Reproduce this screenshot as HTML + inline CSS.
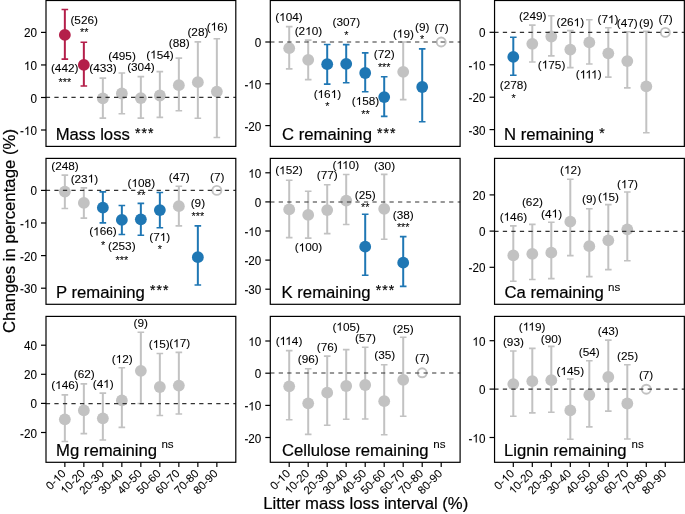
<!DOCTYPE html>
<html><head><meta charset="utf-8"><title>Changes in percentage by litter mass loss interval</title>
<style>html,body{margin:0;padding:0;background:#fff;}svg{display:block;will-change:transform;}text{font-family:"Liberation Sans",sans-serif;fill:#000;stroke:#000;stroke-width:0.08px;}text.t{stroke-width:0.2px;}</style></head><body>
<svg width="685" height="514" viewBox="0 0 685 514">
<rect x="0" y="0" width="685" height="514" fill="#fff"/>
<path d="M64.85 9.50V59.10" stroke="#b41f4a" stroke-width="2.0" fill="none"/>
<path d="M61.55 9.50H68.15M61.55 59.10H68.15" stroke="#b41f4a" stroke-width="1.6" fill="none"/>
<circle cx="64.85" cy="34.90" r="5.9" fill="#b41f4a"/>
<path d="M83.85 42.30V86.00" stroke="#b41f4a" stroke-width="2.0" fill="none"/>
<path d="M80.55 42.30H87.15M80.55 86.00H87.15" stroke="#b41f4a" stroke-width="1.6" fill="none"/>
<circle cx="83.85" cy="64.90" r="5.9" fill="#b41f4a"/>
<path d="M102.85 78.10V118.10" stroke="#c2c2c2" stroke-width="2.0" fill="none"/>
<path d="M99.55 78.10H106.15M99.55 118.10H106.15" stroke="#c2c2c2" stroke-width="1.6" fill="none"/>
<circle cx="102.85" cy="98.40" r="5.9" fill="#c2c2c2"/>
<path d="M121.85 73.00V113.70" stroke="#c2c2c2" stroke-width="2.0" fill="none"/>
<path d="M118.55 73.00H125.15M118.55 113.70H125.15" stroke="#c2c2c2" stroke-width="1.6" fill="none"/>
<circle cx="121.85" cy="93.50" r="5.9" fill="#c2c2c2"/>
<path d="M140.85 76.60V118.10" stroke="#c2c2c2" stroke-width="2.0" fill="none"/>
<path d="M137.55 76.60H144.15M137.55 118.10H144.15" stroke="#c2c2c2" stroke-width="1.6" fill="none"/>
<circle cx="140.85" cy="98.10" r="5.9" fill="#c2c2c2"/>
<path d="M159.85 71.60V117.40" stroke="#c2c2c2" stroke-width="2.0" fill="none"/>
<path d="M156.55 71.60H163.15M156.55 117.40H163.15" stroke="#c2c2c2" stroke-width="1.6" fill="none"/>
<circle cx="159.85" cy="95.50" r="5.9" fill="#c2c2c2"/>
<path d="M178.85 58.10V110.70" stroke="#c2c2c2" stroke-width="2.0" fill="none"/>
<path d="M175.55 58.10H182.15M175.55 110.70H182.15" stroke="#c2c2c2" stroke-width="1.6" fill="none"/>
<circle cx="178.85" cy="85.20" r="5.9" fill="#c2c2c2"/>
<path d="M197.85 41.90V118.20" stroke="#c2c2c2" stroke-width="2.0" fill="none"/>
<path d="M194.55 41.90H201.15M194.55 118.20H201.15" stroke="#c2c2c2" stroke-width="1.6" fill="none"/>
<circle cx="197.85" cy="82.20" r="5.9" fill="#c2c2c2"/>
<path d="M216.85 38.70V137.50" stroke="#c2c2c2" stroke-width="2.0" fill="none"/>
<path d="M213.55 38.70H220.15M213.55 137.50H220.15" stroke="#c2c2c2" stroke-width="1.6" fill="none"/>
<circle cx="216.85" cy="91.60" r="5.9" fill="#c2c2c2"/>
<line x1="45.85" y1="97.40" x2="235.85" y2="97.40" stroke="#333" stroke-width="1.2" stroke-dasharray="4.26 4.26"/>
<rect x="46.00" y="0.50" width="189.80" height="145.90" fill="none" stroke="#000" stroke-width="1.2"/>
<line x1="41.00" y1="32.40" x2="46.00" y2="32.40" stroke="#000" stroke-width="1.2"/>
<text x="0" y="0" font-size="11.7" text-anchor="end" transform="translate(36.95 37.40) scale(1 1.05)">20</text>
<line x1="41.00" y1="64.95" x2="46.00" y2="64.95" stroke="#000" stroke-width="1.2"/>
<g transform="translate(36.95 69.95) scale(1 1.05)"><text x="-6.52" y="0.00" font-size="11.7" text-anchor="start">0</text><path d="M763 0H583V1147Q518 1085 412.5 1023T223 930V1104Q374 1175 487 1276T647 1472H763Z" transform="translate(-13.01 0.00) scale(0.00571 -0.00547)" fill="#000" stroke="#000" stroke-width="14.0"/></g>
<line x1="41.00" y1="97.50" x2="46.00" y2="97.50" stroke="#000" stroke-width="1.2"/>
<text x="0" y="0" font-size="11.7" text-anchor="end" transform="translate(36.95 102.50) scale(1 1.05)">0</text>
<line x1="41.00" y1="130.00" x2="46.00" y2="130.00" stroke="#000" stroke-width="1.2"/>
<g transform="translate(36.95 135.00) scale(1 1.05)"><text x="-16.90 -6.52" y="0.00" font-size="11.7" text-anchor="start">-0</text><path d="M763 0H583V1147Q518 1085 412.5 1023T223 930V1104Q374 1175 487 1276T647 1472H763Z" transform="translate(-13.01 0.00) scale(0.00571 -0.00547)" fill="#000" stroke="#000" stroke-width="14.0"/></g>
<text x="64.70" y="71.50" font-size="11.8" text-anchor="middle">(442)</text>
<text x="84.20" y="24.10" font-size="11.8" text-anchor="middle">(526)</text>
<text x="103.00" y="72.10" font-size="11.8" text-anchor="middle">(433)</text>
<text x="122.10" y="59.50" font-size="11.8" text-anchor="middle">(495)</text>
<text x="140.90" y="70.60" font-size="11.8" text-anchor="middle">(304)</text>
<text x="146.23 156.71 163.27 169.84" y="58.50" font-size="11.8" text-anchor="start">(54)</text><path d="M763 0H583V1147Q518 1085 412.5 1023T223 930V1104Q374 1175 487 1276T647 1472H763Z" transform="translate(150.15 58.50) scale(0.00576 -0.00551)" fill="#000" stroke="#000" stroke-width="13.9"/>
<text x="179.20" y="47.00" font-size="11.8" text-anchor="middle">(88)</text>
<text x="197.90" y="36.00" font-size="11.8" text-anchor="middle">(28)</text>
<text x="206.71 217.19 223.75" y="30.60" font-size="11.8" text-anchor="start">(6)</text><path d="M763 0H583V1147Q518 1085 412.5 1023T223 930V1104Q374 1175 487 1276T647 1472H763Z" transform="translate(210.63 30.60) scale(0.00576 -0.00551)" fill="#000" stroke="#000" stroke-width="13.9"/>
<text x="64.90" y="85.50" font-size="10.8" text-anchor="middle">***</text>
<text x="84.20" y="36.00" font-size="10.8" text-anchor="middle">**</text>
<text x="55.66 69.55 78.83 87.18 95.52 100.16 103.86 113.14 121.49 129.83" y="140.10" font-size="16.7" text-anchor="start" class="t">Mass loss </text><text x="137.72" y="137.75" font-size="14" text-anchor="middle" class="t">*</text><text x="144.21" y="137.75" font-size="14" text-anchor="middle" class="t">*</text><text x="150.71" y="137.75" font-size="14" text-anchor="middle" class="t">*</text>
<path d="M289.20 26.60V68.90" stroke="#c2c2c2" stroke-width="2.0" fill="none"/>
<path d="M285.90 26.60H292.50M285.90 68.90H292.50" stroke="#c2c2c2" stroke-width="1.6" fill="none"/>
<circle cx="289.20" cy="48.20" r="5.9" fill="#c2c2c2"/>
<path d="M308.20 40.10V79.60" stroke="#c2c2c2" stroke-width="2.0" fill="none"/>
<path d="M304.90 40.10H311.50M304.90 79.60H311.50" stroke="#c2c2c2" stroke-width="1.6" fill="none"/>
<circle cx="308.20" cy="59.80" r="5.9" fill="#c2c2c2"/>
<path d="M327.20 44.50V84.10" stroke="#1f77b4" stroke-width="2.0" fill="none"/>
<path d="M323.90 44.50H330.50M323.90 84.10H330.50" stroke="#1f77b4" stroke-width="1.6" fill="none"/>
<circle cx="327.20" cy="64.20" r="5.9" fill="#1f77b4"/>
<path d="M346.20 44.60V82.80" stroke="#1f77b4" stroke-width="2.0" fill="none"/>
<path d="M342.90 44.60H349.50M342.90 82.80H349.50" stroke="#1f77b4" stroke-width="1.6" fill="none"/>
<circle cx="346.20" cy="63.80" r="5.9" fill="#1f77b4"/>
<path d="M365.20 52.90V91.80" stroke="#1f77b4" stroke-width="2.0" fill="none"/>
<path d="M361.90 52.90H368.50M361.90 91.80H368.50" stroke="#1f77b4" stroke-width="1.6" fill="none"/>
<circle cx="365.20" cy="73.00" r="5.9" fill="#1f77b4"/>
<path d="M384.20 76.70V116.40" stroke="#1f77b4" stroke-width="2.0" fill="none"/>
<path d="M380.90 76.70H387.50M380.90 116.40H387.50" stroke="#1f77b4" stroke-width="1.6" fill="none"/>
<circle cx="384.20" cy="97.10" r="5.9" fill="#1f77b4"/>
<path d="M403.20 42.00V99.60" stroke="#c2c2c2" stroke-width="2.0" fill="none"/>
<path d="M399.90 42.00H406.50M399.90 99.60H406.50" stroke="#c2c2c2" stroke-width="1.6" fill="none"/>
<circle cx="403.20" cy="71.80" r="5.9" fill="#c2c2c2"/>
<path d="M422.20 48.90V121.80" stroke="#1f77b4" stroke-width="2.0" fill="none"/>
<path d="M418.90 48.90H425.50M418.90 121.80H425.50" stroke="#1f77b4" stroke-width="1.6" fill="none"/>
<circle cx="422.20" cy="87.00" r="5.9" fill="#1f77b4"/>
<circle cx="441.20" cy="42.00" r="4.5" fill="none" stroke="#c2c2c2" stroke-width="1.9"/>
<line x1="270.20" y1="42.00" x2="460.20" y2="42.00" stroke="#333" stroke-width="1.2" stroke-dasharray="4.26 4.26"/>
<rect x="270.30" y="0.50" width="189.80" height="145.90" fill="none" stroke="#000" stroke-width="1.2"/>
<line x1="265.30" y1="42.00" x2="270.30" y2="42.00" stroke="#000" stroke-width="1.2"/>
<text x="0" y="0" font-size="11.7" text-anchor="end" transform="translate(261.30 47.00) scale(1 1.05)">0</text>
<line x1="265.30" y1="83.80" x2="270.30" y2="83.80" stroke="#000" stroke-width="1.2"/>
<g transform="translate(261.30 88.80) scale(1 1.05)"><text x="-16.90 -6.52" y="0.00" font-size="11.7" text-anchor="start">-0</text><path d="M763 0H583V1147Q518 1085 412.5 1023T223 930V1104Q374 1175 487 1276T647 1472H763Z" transform="translate(-13.01 0.00) scale(0.00571 -0.00547)" fill="#000" stroke="#000" stroke-width="14.0"/></g>
<line x1="265.30" y1="125.60" x2="270.30" y2="125.60" stroke="#000" stroke-width="1.2"/>
<text x="0" y="0" font-size="11.7" text-anchor="end" transform="translate(261.30 130.60) scale(1 1.05)">-20</text>
<text x="275.23 285.71 292.27 298.84" y="21.10" font-size="11.8" text-anchor="start">(04)</text><path d="M763 0H583V1147Q518 1085 412.5 1023T223 930V1104Q374 1175 487 1276T647 1472H763Z" transform="translate(279.15 21.10) scale(0.00576 -0.00551)" fill="#000" stroke="#000" stroke-width="13.9"/>
<text x="294.63 298.55 311.67 318.24" y="35.00" font-size="11.8" text-anchor="start">(20)</text><path d="M763 0H583V1147Q518 1085 412.5 1023T223 930V1104Q374 1175 487 1276T647 1472H763Z" transform="translate(305.11 35.00) scale(0.00576 -0.00551)" fill="#000" stroke="#000" stroke-width="13.9"/>
<text x="313.63 324.11 337.24" y="98.10" font-size="11.8" text-anchor="start">(6)</text><path d="M763 0H583V1147Q518 1085 412.5 1023T223 930V1104Q374 1175 487 1276T647 1472H763Z" transform="translate(317.55 98.10) scale(0.00576 -0.00551)" fill="#000" stroke="#000" stroke-width="13.9"/><path d="M763 0H583V1147Q518 1085 412.5 1023T223 930V1104Q374 1175 487 1276T647 1472H763Z" transform="translate(330.67 98.10) scale(0.00576 -0.00551)" fill="#000" stroke="#000" stroke-width="13.9"/>
<text x="346.30" y="26.30" font-size="11.8" text-anchor="middle">(307)</text>
<text x="351.73 362.21 368.77 375.34" y="105.00" font-size="11.8" text-anchor="start">(58)</text><path d="M763 0H583V1147Q518 1085 412.5 1023T223 930V1104Q374 1175 487 1276T647 1472H763Z" transform="translate(355.65 105.00) scale(0.00576 -0.00551)" fill="#000" stroke="#000" stroke-width="13.9"/>
<text x="384.20" y="58.40" font-size="11.8" text-anchor="middle">(72)</text>
<text x="392.91 403.39 409.95" y="37.60" font-size="11.8" text-anchor="start">(9)</text><path d="M763 0H583V1147Q518 1085 412.5 1023T223 930V1104Q374 1175 487 1276T647 1472H763Z" transform="translate(396.83 37.60) scale(0.00576 -0.00551)" fill="#000" stroke="#000" stroke-width="13.9"/>
<text x="422.20" y="31.00" font-size="11.8" text-anchor="middle">(9)</text>
<text x="441.60" y="31.80" font-size="11.8" text-anchor="middle">(7)</text>
<text x="327.40" y="109.60" font-size="10.8" text-anchor="middle">*</text>
<text x="346.30" y="38.70" font-size="10.8" text-anchor="middle">*</text>
<text x="365.50" y="117.80" font-size="10.8" text-anchor="middle">**</text>
<text x="384.20" y="70.80" font-size="10.8" text-anchor="middle">***</text>
<text x="422.20" y="42.70" font-size="10.8" text-anchor="middle">*</text>
<text x="281.98 294.03 298.67 304.21 313.50 327.40 336.68 340.39 349.67 353.37 362.65 371.93" y="140.10" font-size="16.7" text-anchor="start" class="t">C remaining </text><text x="379.83" y="137.75" font-size="14" text-anchor="middle" class="t">*</text><text x="386.32" y="137.75" font-size="14" text-anchor="middle" class="t">*</text><text x="392.82" y="137.75" font-size="14" text-anchor="middle" class="t">*</text>
<path d="M513.30 37.20V75.20" stroke="#1f77b4" stroke-width="2.0" fill="none"/>
<path d="M510.00 37.20H516.60M510.00 75.20H516.60" stroke="#1f77b4" stroke-width="1.6" fill="none"/>
<circle cx="513.30" cy="56.90" r="5.9" fill="#1f77b4"/>
<path d="M532.30 25.10V62.00" stroke="#c2c2c2" stroke-width="2.0" fill="none"/>
<path d="M529.00 25.10H535.60M529.00 62.00H535.60" stroke="#c2c2c2" stroke-width="1.6" fill="none"/>
<circle cx="532.30" cy="43.80" r="5.9" fill="#c2c2c2"/>
<path d="M551.30 15.80V55.90" stroke="#c2c2c2" stroke-width="2.0" fill="none"/>
<path d="M548.00 15.80H554.60M548.00 55.90H554.60" stroke="#c2c2c2" stroke-width="1.6" fill="none"/>
<circle cx="551.30" cy="36.50" r="5.9" fill="#c2c2c2"/>
<path d="M570.30 30.60V67.60" stroke="#c2c2c2" stroke-width="2.0" fill="none"/>
<path d="M567.00 30.60H573.60M567.00 67.60H573.60" stroke="#c2c2c2" stroke-width="1.6" fill="none"/>
<circle cx="570.30" cy="49.60" r="5.9" fill="#c2c2c2"/>
<path d="M589.30 19.70V64.00" stroke="#c2c2c2" stroke-width="2.0" fill="none"/>
<path d="M586.00 19.70H592.60M586.00 64.00H592.60" stroke="#c2c2c2" stroke-width="1.6" fill="none"/>
<circle cx="589.30" cy="42.40" r="5.9" fill="#c2c2c2"/>
<path d="M608.30 27.70V77.10" stroke="#c2c2c2" stroke-width="2.0" fill="none"/>
<path d="M605.00 27.70H611.60M605.00 77.10H611.60" stroke="#c2c2c2" stroke-width="1.6" fill="none"/>
<circle cx="608.30" cy="53.30" r="5.9" fill="#c2c2c2"/>
<path d="M627.30 31.80V87.90" stroke="#c2c2c2" stroke-width="2.0" fill="none"/>
<path d="M624.00 31.80H630.60M624.00 87.90H630.60" stroke="#c2c2c2" stroke-width="1.6" fill="none"/>
<circle cx="627.30" cy="61.10" r="5.9" fill="#c2c2c2"/>
<path d="M646.30 31.40V132.70" stroke="#c2c2c2" stroke-width="2.0" fill="none"/>
<path d="M643.00 31.40H649.60M643.00 132.70H649.60" stroke="#c2c2c2" stroke-width="1.6" fill="none"/>
<circle cx="646.30" cy="86.40" r="5.9" fill="#c2c2c2"/>
<circle cx="665.30" cy="32.40" r="4.5" fill="none" stroke="#c2c2c2" stroke-width="1.9"/>
<line x1="494.30" y1="32.40" x2="684.30" y2="32.40" stroke="#333" stroke-width="1.2" stroke-dasharray="4.26 4.26"/>
<rect x="494.55" y="0.50" width="189.80" height="145.90" fill="none" stroke="#000" stroke-width="1.2"/>
<line x1="489.55" y1="32.30" x2="494.55" y2="32.30" stroke="#000" stroke-width="1.2"/>
<text x="0" y="0" font-size="11.7" text-anchor="end" transform="translate(485.40 37.30) scale(1 1.05)">0</text>
<line x1="489.55" y1="64.75" x2="494.55" y2="64.75" stroke="#000" stroke-width="1.2"/>
<g transform="translate(485.40 69.75) scale(1 1.05)"><text x="-16.90 -6.52" y="0.00" font-size="11.7" text-anchor="start">-0</text><path d="M763 0H583V1147Q518 1085 412.5 1023T223 930V1104Q374 1175 487 1276T647 1472H763Z" transform="translate(-13.01 0.00) scale(0.00571 -0.00547)" fill="#000" stroke="#000" stroke-width="14.0"/></g>
<line x1="489.55" y1="97.20" x2="494.55" y2="97.20" stroke="#000" stroke-width="1.2"/>
<text x="0" y="0" font-size="11.7" text-anchor="end" transform="translate(485.40 102.20) scale(1 1.05)">-20</text>
<line x1="489.55" y1="129.60" x2="494.55" y2="129.60" stroke="#000" stroke-width="1.2"/>
<text x="0" y="0" font-size="11.7" text-anchor="end" transform="translate(485.40 134.60) scale(1 1.05)">-30</text>
<text x="513.50" y="88.50" font-size="11.8" text-anchor="middle">(278)</text>
<text x="532.70" y="20.00" font-size="11.8" text-anchor="middle">(249)</text>
<text x="537.83 548.31 554.87 561.44" y="68.60" font-size="11.8" text-anchor="start">(75)</text><path d="M763 0H583V1147Q518 1085 412.5 1023T223 930V1104Q374 1175 487 1276T647 1472H763Z" transform="translate(541.75 68.60) scale(0.00576 -0.00551)" fill="#000" stroke="#000" stroke-width="13.9"/>
<text x="556.53 560.45 567.01 580.14" y="26.30" font-size="11.8" text-anchor="start">(26)</text><path d="M763 0H583V1147Q518 1085 412.5 1023T223 930V1104Q374 1175 487 1276T647 1472H763Z" transform="translate(573.57 26.30) scale(0.00576 -0.00551)" fill="#000" stroke="#000" stroke-width="13.9"/>
<text x="575.80 597.66" y="78.40" font-size="11.8" text-anchor="start">()</text><path d="M763 0H583V1147Q518 1085 412.5 1023T223 930V1104Q374 1175 487 1276T647 1472H763Z" transform="translate(579.72 78.40) scale(0.00576 -0.00551)" fill="#000" stroke="#000" stroke-width="13.9"/><path d="M763 0H583V1147Q518 1085 412.5 1023T223 930V1104Q374 1175 487 1276T647 1472H763Z" transform="translate(585.41 78.40) scale(0.00576 -0.00551)" fill="#000" stroke="#000" stroke-width="13.9"/><path d="M763 0H583V1147Q518 1085 412.5 1023T223 930V1104Q374 1175 487 1276T647 1472H763Z" transform="translate(591.10 78.40) scale(0.00576 -0.00551)" fill="#000" stroke="#000" stroke-width="13.9"/>
<text x="597.51 601.43 614.55" y="23.30" font-size="11.8" text-anchor="start">(7)</text><path d="M763 0H583V1147Q518 1085 412.5 1023T223 930V1104Q374 1175 487 1276T647 1472H763Z" transform="translate(607.99 23.30) scale(0.00576 -0.00551)" fill="#000" stroke="#000" stroke-width="13.9"/>
<text x="627.20" y="27.00" font-size="11.8" text-anchor="middle">(47)</text>
<text x="646.30" y="26.70" font-size="11.8" text-anchor="middle">(9)</text>
<text x="665.60" y="22.60" font-size="11.8" text-anchor="middle">(7)</text>
<text x="513.50" y="101.80" font-size="10.8" text-anchor="middle">*</text>
<text x="504.03 516.08 520.72 526.26 535.55 549.45 558.73 562.44 571.72 575.42 584.70 593.98" y="140.10" font-size="16.7" text-anchor="start" class="t">N remaining </text><text x="601.88" y="137.75" font-size="14" text-anchor="middle" class="t">*</text>
<path d="M64.85 175.10V208.50" stroke="#c2c2c2" stroke-width="2.0" fill="none"/>
<path d="M61.55 175.10H68.15M61.55 208.50H68.15" stroke="#c2c2c2" stroke-width="1.6" fill="none"/>
<circle cx="64.85" cy="191.60" r="5.9" fill="#c2c2c2"/>
<path d="M83.85 187.90V218.10" stroke="#c2c2c2" stroke-width="2.0" fill="none"/>
<path d="M80.55 187.90H87.15M80.55 218.10H87.15" stroke="#c2c2c2" stroke-width="1.6" fill="none"/>
<circle cx="83.85" cy="202.90" r="5.9" fill="#c2c2c2"/>
<path d="M102.85 191.90V222.90" stroke="#1f77b4" stroke-width="2.0" fill="none"/>
<path d="M99.55 191.90H106.15M99.55 222.90H106.15" stroke="#1f77b4" stroke-width="1.6" fill="none"/>
<circle cx="102.85" cy="207.70" r="5.9" fill="#1f77b4"/>
<path d="M121.85 205.50V234.50" stroke="#1f77b4" stroke-width="2.0" fill="none"/>
<path d="M118.55 205.50H125.15M118.55 234.50H125.15" stroke="#1f77b4" stroke-width="1.6" fill="none"/>
<circle cx="121.85" cy="219.90" r="5.9" fill="#1f77b4"/>
<path d="M140.85 203.40V235.20" stroke="#1f77b4" stroke-width="2.0" fill="none"/>
<path d="M137.55 203.40H144.15M137.55 235.20H144.15" stroke="#1f77b4" stroke-width="1.6" fill="none"/>
<circle cx="140.85" cy="219.30" r="5.9" fill="#1f77b4"/>
<path d="M159.85 192.50V227.70" stroke="#1f77b4" stroke-width="2.0" fill="none"/>
<path d="M156.55 192.50H163.15M156.55 227.70H163.15" stroke="#1f77b4" stroke-width="1.6" fill="none"/>
<circle cx="159.85" cy="210.10" r="5.9" fill="#1f77b4"/>
<path d="M178.85 186.20V225.90" stroke="#c2c2c2" stroke-width="2.0" fill="none"/>
<path d="M175.55 186.20H182.15M175.55 225.90H182.15" stroke="#c2c2c2" stroke-width="1.6" fill="none"/>
<circle cx="178.85" cy="206.20" r="5.9" fill="#c2c2c2"/>
<path d="M197.85 225.90V285.00" stroke="#1f77b4" stroke-width="2.0" fill="none"/>
<path d="M194.55 225.90H201.15M194.55 285.00H201.15" stroke="#1f77b4" stroke-width="1.6" fill="none"/>
<circle cx="197.85" cy="257.20" r="5.9" fill="#1f77b4"/>
<circle cx="216.85" cy="190.40" r="4.5" fill="none" stroke="#c2c2c2" stroke-width="1.9"/>
<line x1="45.85" y1="190.40" x2="235.85" y2="190.40" stroke="#333" stroke-width="1.2" stroke-dasharray="4.26 4.26"/>
<rect x="46.00" y="158.40" width="189.80" height="145.90" fill="none" stroke="#000" stroke-width="1.2"/>
<line x1="41.00" y1="190.40" x2="46.00" y2="190.40" stroke="#000" stroke-width="1.2"/>
<text x="0" y="0" font-size="11.7" text-anchor="end" transform="translate(36.95 195.40) scale(1 1.05)">0</text>
<line x1="41.00" y1="223.00" x2="46.00" y2="223.00" stroke="#000" stroke-width="1.2"/>
<g transform="translate(36.95 228.00) scale(1 1.05)"><text x="-16.90 -6.52" y="0.00" font-size="11.7" text-anchor="start">-0</text><path d="M763 0H583V1147Q518 1085 412.5 1023T223 930V1104Q374 1175 487 1276T647 1472H763Z" transform="translate(-13.01 0.00) scale(0.00571 -0.00547)" fill="#000" stroke="#000" stroke-width="14.0"/></g>
<line x1="41.00" y1="255.60" x2="46.00" y2="255.60" stroke="#000" stroke-width="1.2"/>
<text x="0" y="0" font-size="11.7" text-anchor="end" transform="translate(36.95 260.60) scale(1 1.05)">-20</text>
<line x1="41.00" y1="288.20" x2="46.00" y2="288.20" stroke="#000" stroke-width="1.2"/>
<text x="0" y="0" font-size="11.7" text-anchor="end" transform="translate(36.95 293.20) scale(1 1.05)">-30</text>
<text x="65.00" y="169.70" font-size="11.8" text-anchor="middle">(248)</text>
<text x="70.63 74.55 81.11 94.24" y="182.50" font-size="11.8" text-anchor="start">(23)</text><path d="M763 0H583V1147Q518 1085 412.5 1023T223 930V1104Q374 1175 487 1276T647 1472H763Z" transform="translate(87.67 182.50) scale(0.00576 -0.00551)" fill="#000" stroke="#000" stroke-width="13.9"/>
<text x="89.23 99.71 106.27 112.84" y="235.40" font-size="11.8" text-anchor="start">(66)</text><path d="M763 0H583V1147Q518 1085 412.5 1023T223 930V1104Q374 1175 487 1276T647 1472H763Z" transform="translate(93.15 235.40) scale(0.00576 -0.00551)" fill="#000" stroke="#000" stroke-width="13.9"/>
<text x="121.80" y="249.50" font-size="11.8" text-anchor="middle">(253)</text>
<text x="127.53 138.01 144.57 151.14" y="187.00" font-size="11.8" text-anchor="start">(08)</text><path d="M763 0H583V1147Q518 1085 412.5 1023T223 930V1104Q374 1175 487 1276T647 1472H763Z" transform="translate(131.45 187.00) scale(0.00576 -0.00551)" fill="#000" stroke="#000" stroke-width="13.9"/>
<text x="149.31 153.23 166.35" y="241.00" font-size="11.8" text-anchor="start">(7)</text><path d="M763 0H583V1147Q518 1085 412.5 1023T223 930V1104Q374 1175 487 1276T647 1472H763Z" transform="translate(159.79 241.00) scale(0.00576 -0.00551)" fill="#000" stroke="#000" stroke-width="13.9"/>
<text x="179.20" y="181.30" font-size="11.8" text-anchor="middle">(47)</text>
<text x="197.90" y="206.90" font-size="11.8" text-anchor="middle">(9)</text>
<text x="217.20" y="181.10" font-size="11.8" text-anchor="middle">(7)</text>
<text x="103.00" y="248.70" font-size="10.8" text-anchor="middle">*</text>
<text x="121.80" y="263.50" font-size="10.8" text-anchor="middle">***</text>
<text x="141.30" y="199.30" font-size="10.8" text-anchor="middle">**</text>
<text x="159.80" y="253.40" font-size="10.8" text-anchor="middle">*</text>
<text x="197.90" y="220.10" font-size="10.8" text-anchor="middle">***</text>
<text x="56.01 66.84 71.46 77.03 86.31 100.21 109.49 113.20 122.48 126.18 135.46 144.74" y="297.70" font-size="16.7" text-anchor="start" class="t">P remaining </text><text x="152.63" y="295.35" font-size="14" text-anchor="middle" class="t">*</text><text x="159.13" y="295.35" font-size="14" text-anchor="middle" class="t">*</text><text x="165.63" y="295.35" font-size="14" text-anchor="middle" class="t">*</text>
<path d="M289.20 180.20V237.60" stroke="#c2c2c2" stroke-width="2.0" fill="none"/>
<path d="M285.90 180.20H292.50M285.90 237.60H292.50" stroke="#c2c2c2" stroke-width="1.6" fill="none"/>
<circle cx="289.20" cy="209.40" r="5.9" fill="#c2c2c2"/>
<path d="M308.20 191.30V238.10" stroke="#c2c2c2" stroke-width="2.0" fill="none"/>
<path d="M304.90 191.30H311.50M304.90 238.10H311.50" stroke="#c2c2c2" stroke-width="1.6" fill="none"/>
<circle cx="308.20" cy="214.90" r="5.9" fill="#c2c2c2"/>
<path d="M327.20 184.70V233.60" stroke="#c2c2c2" stroke-width="2.0" fill="none"/>
<path d="M323.90 184.70H330.50M323.90 233.60H330.50" stroke="#c2c2c2" stroke-width="1.6" fill="none"/>
<circle cx="327.20" cy="210.10" r="5.9" fill="#c2c2c2"/>
<path d="M346.20 174.50V224.50" stroke="#c2c2c2" stroke-width="2.0" fill="none"/>
<path d="M342.90 174.50H349.50M342.90 224.50H349.50" stroke="#c2c2c2" stroke-width="1.6" fill="none"/>
<circle cx="346.20" cy="200.60" r="5.9" fill="#c2c2c2"/>
<path d="M365.20 214.30V275.30" stroke="#1f77b4" stroke-width="2.0" fill="none"/>
<path d="M361.90 214.30H368.50M361.90 275.30H368.50" stroke="#1f77b4" stroke-width="1.6" fill="none"/>
<circle cx="365.20" cy="246.70" r="5.9" fill="#1f77b4"/>
<path d="M384.20 174.40V239.30" stroke="#c2c2c2" stroke-width="2.0" fill="none"/>
<path d="M380.90 174.40H387.50M380.90 239.30H387.50" stroke="#c2c2c2" stroke-width="1.6" fill="none"/>
<circle cx="384.20" cy="208.80" r="5.9" fill="#c2c2c2"/>
<path d="M403.20 236.60V286.40" stroke="#1f77b4" stroke-width="2.0" fill="none"/>
<path d="M399.90 236.60H406.50M399.90 286.40H406.50" stroke="#1f77b4" stroke-width="1.6" fill="none"/>
<circle cx="403.20" cy="262.70" r="5.9" fill="#1f77b4"/>
<line x1="270.20" y1="202.00" x2="460.20" y2="202.00" stroke="#333" stroke-width="1.2" stroke-dasharray="4.26 4.26"/>
<rect x="270.30" y="158.40" width="189.80" height="145.90" fill="none" stroke="#000" stroke-width="1.2"/>
<line x1="265.30" y1="172.80" x2="270.30" y2="172.80" stroke="#000" stroke-width="1.2"/>
<g transform="translate(261.30 177.80) scale(1 1.05)"><text x="-6.52" y="0.00" font-size="11.7" text-anchor="start">0</text><path d="M763 0H583V1147Q518 1085 412.5 1023T223 930V1104Q374 1175 487 1276T647 1472H763Z" transform="translate(-13.01 0.00) scale(0.00571 -0.00547)" fill="#000" stroke="#000" stroke-width="14.0"/></g>
<line x1="265.30" y1="201.90" x2="270.30" y2="201.90" stroke="#000" stroke-width="1.2"/>
<text x="0" y="0" font-size="11.7" text-anchor="end" transform="translate(261.30 206.90) scale(1 1.05)">0</text>
<line x1="265.30" y1="231.00" x2="270.30" y2="231.00" stroke="#000" stroke-width="1.2"/>
<g transform="translate(261.30 236.00) scale(1 1.05)"><text x="-16.90 -6.52" y="0.00" font-size="11.7" text-anchor="start">-0</text><path d="M763 0H583V1147Q518 1085 412.5 1023T223 930V1104Q374 1175 487 1276T647 1472H763Z" transform="translate(-13.01 0.00) scale(0.00571 -0.00547)" fill="#000" stroke="#000" stroke-width="14.0"/></g>
<line x1="265.30" y1="260.10" x2="270.30" y2="260.10" stroke="#000" stroke-width="1.2"/>
<text x="0" y="0" font-size="11.7" text-anchor="end" transform="translate(261.30 265.10) scale(1 1.05)">-20</text>
<line x1="265.30" y1="289.20" x2="270.30" y2="289.20" stroke="#000" stroke-width="1.2"/>
<text x="0" y="0" font-size="11.7" text-anchor="end" transform="translate(261.30 294.20) scale(1 1.05)">-30</text>
<text x="275.23 285.71 292.27 298.84" y="174.30" font-size="11.8" text-anchor="start">(52)</text><path d="M763 0H583V1147Q518 1085 412.5 1023T223 930V1104Q374 1175 487 1276T647 1472H763Z" transform="translate(279.15 174.30) scale(0.00576 -0.00551)" fill="#000" stroke="#000" stroke-width="13.9"/>
<text x="294.73 305.21 311.77 318.34" y="251.40" font-size="11.8" text-anchor="start">(00)</text><path d="M763 0H583V1147Q518 1085 412.5 1023T223 930V1104Q374 1175 487 1276T647 1472H763Z" transform="translate(298.65 251.40) scale(0.00576 -0.00551)" fill="#000" stroke="#000" stroke-width="13.9"/>
<text x="327.30" y="179.20" font-size="11.8" text-anchor="middle">(77)</text>
<text x="332.56 348.74 355.30" y="169.00" font-size="11.8" text-anchor="start">(0)</text><path d="M763 0H583V1147Q518 1085 412.5 1023T223 930V1104Q374 1175 487 1276T647 1472H763Z" transform="translate(336.49 169.00) scale(0.00576 -0.00551)" fill="#000" stroke="#000" stroke-width="13.9"/><path d="M763 0H583V1147Q518 1085 412.5 1023T223 930V1104Q374 1175 487 1276T647 1472H763Z" transform="translate(342.17 169.00) scale(0.00576 -0.00551)" fill="#000" stroke="#000" stroke-width="13.9"/>
<text x="365.20" y="198.50" font-size="11.8" text-anchor="middle">(25)</text>
<text x="384.60" y="169.60" font-size="11.8" text-anchor="middle">(30)</text>
<text x="403.20" y="218.70" font-size="11.8" text-anchor="middle">(38)</text>
<text x="365.20" y="210.90" font-size="10.8" text-anchor="middle">**</text>
<text x="403.20" y="230.70" font-size="10.8" text-anchor="middle">***</text>
<text x="281.55 292.67 297.32 302.86 312.14 326.05 335.33 339.03 348.32 352.02 361.30 370.58" y="297.70" font-size="16.7" text-anchor="start" class="t">K remaining </text><text x="378.48" y="295.35" font-size="14" text-anchor="middle" class="t">*</text><text x="384.97" y="295.35" font-size="14" text-anchor="middle" class="t">*</text><text x="391.46" y="295.35" font-size="14" text-anchor="middle" class="t">*</text>
<path d="M513.30 225.90V281.30" stroke="#c2c2c2" stroke-width="2.0" fill="none"/>
<path d="M510.00 225.90H516.60M510.00 281.30H516.60" stroke="#c2c2c2" stroke-width="1.6" fill="none"/>
<circle cx="513.30" cy="255.40" r="5.9" fill="#c2c2c2"/>
<path d="M532.30 224.40V279.50" stroke="#c2c2c2" stroke-width="2.0" fill="none"/>
<path d="M529.00 224.40H535.60M529.00 279.50H535.60" stroke="#c2c2c2" stroke-width="1.6" fill="none"/>
<circle cx="532.30" cy="253.90" r="5.9" fill="#c2c2c2"/>
<path d="M551.30 222.20V278.60" stroke="#c2c2c2" stroke-width="2.0" fill="none"/>
<path d="M548.00 222.20H554.60M548.00 278.60H554.60" stroke="#c2c2c2" stroke-width="1.6" fill="none"/>
<circle cx="551.30" cy="252.70" r="5.9" fill="#c2c2c2"/>
<path d="M570.30 179.20V255.60" stroke="#c2c2c2" stroke-width="2.0" fill="none"/>
<path d="M567.00 179.20H573.60M567.00 255.60H573.60" stroke="#c2c2c2" stroke-width="1.6" fill="none"/>
<circle cx="570.30" cy="221.70" r="5.9" fill="#c2c2c2"/>
<path d="M589.30 208.70V276.60" stroke="#c2c2c2" stroke-width="2.0" fill="none"/>
<path d="M586.00 208.70H592.60M586.00 276.60H592.60" stroke="#c2c2c2" stroke-width="1.6" fill="none"/>
<circle cx="589.30" cy="246.20" r="5.9" fill="#c2c2c2"/>
<path d="M608.30 204.60V269.60" stroke="#c2c2c2" stroke-width="2.0" fill="none"/>
<path d="M605.00 204.60H611.60M605.00 269.60H611.60" stroke="#c2c2c2" stroke-width="1.6" fill="none"/>
<circle cx="608.30" cy="240.30" r="5.9" fill="#c2c2c2"/>
<path d="M627.30 192.00V260.80" stroke="#c2c2c2" stroke-width="2.0" fill="none"/>
<path d="M624.00 192.00H630.60M624.00 260.80H630.60" stroke="#c2c2c2" stroke-width="1.6" fill="none"/>
<circle cx="627.30" cy="229.30" r="5.9" fill="#c2c2c2"/>
<line x1="494.30" y1="231.30" x2="684.30" y2="231.30" stroke="#333" stroke-width="1.2" stroke-dasharray="4.26 4.26"/>
<rect x="494.55" y="158.40" width="189.80" height="145.90" fill="none" stroke="#000" stroke-width="1.2"/>
<line x1="489.55" y1="194.90" x2="494.55" y2="194.90" stroke="#000" stroke-width="1.2"/>
<text x="0" y="0" font-size="11.7" text-anchor="end" transform="translate(485.40 199.90) scale(1 1.05)">20</text>
<line x1="489.55" y1="231.10" x2="494.55" y2="231.10" stroke="#000" stroke-width="1.2"/>
<text x="0" y="0" font-size="11.7" text-anchor="end" transform="translate(485.40 236.10) scale(1 1.05)">0</text>
<line x1="489.55" y1="267.30" x2="494.55" y2="267.30" stroke="#000" stroke-width="1.2"/>
<text x="0" y="0" font-size="11.7" text-anchor="end" transform="translate(485.40 272.30) scale(1 1.05)">-20</text>
<text x="499.63 510.11 516.67 523.24" y="220.70" font-size="11.8" text-anchor="start">(46)</text><path d="M763 0H583V1147Q518 1085 412.5 1023T223 930V1104Q374 1175 487 1276T647 1472H763Z" transform="translate(503.55 220.70) scale(0.00576 -0.00551)" fill="#000" stroke="#000" stroke-width="13.9"/>
<text x="532.40" y="205.70" font-size="11.8" text-anchor="middle">(62)</text>
<text x="541.11 545.03 558.15" y="217.50" font-size="11.8" text-anchor="start">(4)</text><path d="M763 0H583V1147Q518 1085 412.5 1023T223 930V1104Q374 1175 487 1276T647 1472H763Z" transform="translate(551.59 217.50) scale(0.00576 -0.00551)" fill="#000" stroke="#000" stroke-width="13.9"/>
<text x="560.11 570.59 577.15" y="173.80" font-size="11.8" text-anchor="start">(2)</text><path d="M763 0H583V1147Q518 1085 412.5 1023T223 930V1104Q374 1175 487 1276T647 1472H763Z" transform="translate(564.03 173.80) scale(0.00576 -0.00551)" fill="#000" stroke="#000" stroke-width="13.9"/>
<text x="589.30" y="202.60" font-size="11.8" text-anchor="middle">(9)</text>
<text x="598.01 608.49 615.05" y="200.50" font-size="11.8" text-anchor="start">(5)</text><path d="M763 0H583V1147Q518 1085 412.5 1023T223 930V1104Q374 1175 487 1276T647 1472H763Z" transform="translate(601.93 200.50) scale(0.00576 -0.00551)" fill="#000" stroke="#000" stroke-width="13.9"/>
<text x="617.01 627.49 634.05" y="188.20" font-size="11.8" text-anchor="start">(7)</text><path d="M763 0H583V1147Q518 1085 412.5 1023T223 930V1104Q374 1175 487 1276T647 1472H763Z" transform="translate(620.93 188.20) scale(0.00576 -0.00551)" fill="#000" stroke="#000" stroke-width="13.9"/>
<text x="504.48" y="297.70" font-size="16.7" text-anchor="start" class="t">Ca remaining</text>
<text x="608.10" y="290.80" font-size="11.6" text-anchor="start">ns</text>
<path d="M64.85 394.90V441.50" stroke="#c2c2c2" stroke-width="2.0" fill="none"/>
<path d="M61.55 394.90H68.15M61.55 441.50H68.15" stroke="#c2c2c2" stroke-width="1.6" fill="none"/>
<circle cx="64.85" cy="419.30" r="5.9" fill="#c2c2c2"/>
<path d="M83.85 383.90V433.60" stroke="#c2c2c2" stroke-width="2.0" fill="none"/>
<path d="M80.55 383.90H87.15M80.55 433.60H87.15" stroke="#c2c2c2" stroke-width="1.6" fill="none"/>
<circle cx="83.85" cy="410.40" r="5.9" fill="#c2c2c2"/>
<path d="M102.85 393.10V440.00" stroke="#c2c2c2" stroke-width="2.0" fill="none"/>
<path d="M99.55 393.10H106.15M99.55 440.00H106.15" stroke="#c2c2c2" stroke-width="1.6" fill="none"/>
<circle cx="102.85" cy="418.30" r="5.9" fill="#c2c2c2"/>
<path d="M121.85 367.80V427.40" stroke="#c2c2c2" stroke-width="2.0" fill="none"/>
<path d="M118.55 367.80H125.15M118.55 427.40H125.15" stroke="#c2c2c2" stroke-width="1.6" fill="none"/>
<circle cx="121.85" cy="400.40" r="5.9" fill="#c2c2c2"/>
<path d="M140.85 332.20V403.50" stroke="#c2c2c2" stroke-width="2.0" fill="none"/>
<path d="M137.55 332.20H144.15M137.55 403.50H144.15" stroke="#c2c2c2" stroke-width="1.6" fill="none"/>
<circle cx="140.85" cy="370.80" r="5.9" fill="#c2c2c2"/>
<path d="M159.85 353.50V415.50" stroke="#c2c2c2" stroke-width="2.0" fill="none"/>
<path d="M156.55 353.50H163.15M156.55 415.50H163.15" stroke="#c2c2c2" stroke-width="1.6" fill="none"/>
<circle cx="159.85" cy="387.00" r="5.9" fill="#c2c2c2"/>
<path d="M178.85 352.40V414.00" stroke="#c2c2c2" stroke-width="2.0" fill="none"/>
<path d="M175.55 352.40H182.15M175.55 414.00H182.15" stroke="#c2c2c2" stroke-width="1.6" fill="none"/>
<circle cx="178.85" cy="385.60" r="5.9" fill="#c2c2c2"/>
<line x1="45.85" y1="403.60" x2="235.85" y2="403.60" stroke="#333" stroke-width="1.2" stroke-dasharray="4.26 4.26"/>
<rect x="46.00" y="316.40" width="189.80" height="145.90" fill="none" stroke="#000" stroke-width="1.2"/>
<line x1="41.00" y1="345.20" x2="46.00" y2="345.20" stroke="#000" stroke-width="1.2"/>
<text x="0" y="0" font-size="11.7" text-anchor="end" transform="translate(36.95 350.20) scale(1 1.05)">40</text>
<line x1="41.00" y1="374.30" x2="46.00" y2="374.30" stroke="#000" stroke-width="1.2"/>
<text x="0" y="0" font-size="11.7" text-anchor="end" transform="translate(36.95 379.30) scale(1 1.05)">20</text>
<line x1="41.00" y1="403.40" x2="46.00" y2="403.40" stroke="#000" stroke-width="1.2"/>
<text x="0" y="0" font-size="11.7" text-anchor="end" transform="translate(36.95 408.40) scale(1 1.05)">0</text>
<line x1="41.00" y1="432.50" x2="46.00" y2="432.50" stroke="#000" stroke-width="1.2"/>
<text x="0" y="0" font-size="11.7" text-anchor="end" transform="translate(36.95 437.50) scale(1 1.05)">-20</text>
<text x="51.23 61.71 68.27 74.84" y="389.00" font-size="11.8" text-anchor="start">(46)</text><path d="M763 0H583V1147Q518 1085 412.5 1023T223 930V1104Q374 1175 487 1276T647 1472H763Z" transform="translate(55.15 389.00) scale(0.00576 -0.00551)" fill="#000" stroke="#000" stroke-width="13.9"/>
<text x="84.20" y="378.00" font-size="11.8" text-anchor="middle">(62)</text>
<text x="92.71 96.63 109.75" y="387.80" font-size="11.8" text-anchor="start">(4)</text><path d="M763 0H583V1147Q518 1085 412.5 1023T223 930V1104Q374 1175 487 1276T647 1472H763Z" transform="translate(103.19 387.80) scale(0.00576 -0.00551)" fill="#000" stroke="#000" stroke-width="13.9"/>
<text x="111.71 122.19 128.75" y="363.00" font-size="11.8" text-anchor="start">(2)</text><path d="M763 0H583V1147Q518 1085 412.5 1023T223 930V1104Q374 1175 487 1276T647 1472H763Z" transform="translate(115.63 363.00) scale(0.00576 -0.00551)" fill="#000" stroke="#000" stroke-width="13.9"/>
<text x="140.80" y="326.80" font-size="11.8" text-anchor="middle">(9)</text>
<text x="148.81 159.29 165.85" y="348.10" font-size="11.8" text-anchor="start">(5)</text><path d="M763 0H583V1147Q518 1085 412.5 1023T223 930V1104Q374 1175 487 1276T647 1472H763Z" transform="translate(152.73 348.10) scale(0.00576 -0.00551)" fill="#000" stroke="#000" stroke-width="13.9"/>
<text x="169.21 179.69 186.25" y="347.30" font-size="11.8" text-anchor="start">(7)</text><path d="M763 0H583V1147Q518 1085 412.5 1023T223 930V1104Q374 1175 487 1276T647 1472H763Z" transform="translate(173.13 347.30) scale(0.00576 -0.00551)" fill="#000" stroke="#000" stroke-width="13.9"/>
<text x="56.06" y="455.60" font-size="16.7" text-anchor="start" class="t">Mg remaining</text>
<text x="161.40" y="448.00" font-size="11.6" text-anchor="start">ns</text>
<line x1="64.85" y1="462.30" x2="64.85" y2="467.10" stroke="#000" stroke-width="1.2"/>
<g transform="rotate(-45 66.55 474.30)"><text x="43.74 50.07 60.19" y="474.30" font-size="11.4" text-anchor="start">0-0</text><path d="M763 0H583V1147Q518 1085 412.5 1023T223 930V1104Q374 1175 487 1276T647 1472H763Z" transform="translate(53.86 474.30) scale(0.00557 -0.00533)" fill="#000" stroke="#000" stroke-width="14.4"/></g>
<line x1="83.85" y1="462.30" x2="83.85" y2="467.10" stroke="#000" stroke-width="1.2"/>
<g transform="rotate(-45 85.55 474.30)"><text x="62.74 69.07 72.86 79.21" y="474.30" font-size="11.4" text-anchor="start">0-20</text><path d="M763 0H583V1147Q518 1085 412.5 1023T223 930V1104Q374 1175 487 1276T647 1472H763Z" transform="translate(56.41 474.30) scale(0.00557 -0.00533)" fill="#000" stroke="#000" stroke-width="14.4"/></g>
<line x1="102.85" y1="462.30" x2="102.85" y2="467.10" stroke="#000" stroke-width="1.2"/>
<text x="104.55" y="474.30" font-size="11.4" text-anchor="end" transform="rotate(-45 104.55 474.30)">20-30</text>
<line x1="121.85" y1="462.30" x2="121.85" y2="467.10" stroke="#000" stroke-width="1.2"/>
<text x="123.55" y="474.30" font-size="11.4" text-anchor="end" transform="rotate(-45 123.55 474.30)">30-40</text>
<line x1="140.85" y1="462.30" x2="140.85" y2="467.10" stroke="#000" stroke-width="1.2"/>
<text x="142.55" y="474.30" font-size="11.4" text-anchor="end" transform="rotate(-45 142.55 474.30)">40-50</text>
<line x1="159.85" y1="462.30" x2="159.85" y2="467.10" stroke="#000" stroke-width="1.2"/>
<text x="161.55" y="474.30" font-size="11.4" text-anchor="end" transform="rotate(-45 161.55 474.30)">50-60</text>
<line x1="178.85" y1="462.30" x2="178.85" y2="467.10" stroke="#000" stroke-width="1.2"/>
<text x="180.55" y="474.30" font-size="11.4" text-anchor="end" transform="rotate(-45 180.55 474.30)">60-70</text>
<line x1="197.85" y1="462.30" x2="197.85" y2="467.10" stroke="#000" stroke-width="1.2"/>
<text x="199.55" y="474.30" font-size="11.4" text-anchor="end" transform="rotate(-45 199.55 474.30)">70-80</text>
<line x1="216.85" y1="462.30" x2="216.85" y2="467.10" stroke="#000" stroke-width="1.2"/>
<text x="218.55" y="474.30" font-size="11.4" text-anchor="end" transform="rotate(-45 218.55 474.30)">80-90</text>
<path d="M289.20 350.60V419.70" stroke="#c2c2c2" stroke-width="2.0" fill="none"/>
<path d="M285.90 350.60H292.50M285.90 419.70H292.50" stroke="#c2c2c2" stroke-width="1.6" fill="none"/>
<circle cx="289.20" cy="386.30" r="5.9" fill="#c2c2c2"/>
<path d="M308.20 368.80V434.40" stroke="#c2c2c2" stroke-width="2.0" fill="none"/>
<path d="M304.90 368.80H311.50M304.90 434.40H311.50" stroke="#c2c2c2" stroke-width="1.6" fill="none"/>
<circle cx="308.20" cy="403.30" r="5.9" fill="#c2c2c2"/>
<path d="M327.20 356.10V425.20" stroke="#c2c2c2" stroke-width="2.0" fill="none"/>
<path d="M323.90 356.10H330.50M323.90 425.20H330.50" stroke="#c2c2c2" stroke-width="1.6" fill="none"/>
<circle cx="327.20" cy="392.70" r="5.9" fill="#c2c2c2"/>
<path d="M346.20 349.60V419.30" stroke="#c2c2c2" stroke-width="2.0" fill="none"/>
<path d="M342.90 349.60H349.50M342.90 419.30H349.50" stroke="#c2c2c2" stroke-width="1.6" fill="none"/>
<circle cx="346.20" cy="386.00" r="5.9" fill="#c2c2c2"/>
<path d="M365.20 347.30V419.00" stroke="#c2c2c2" stroke-width="2.0" fill="none"/>
<path d="M361.90 347.30H368.50M361.90 419.00H368.50" stroke="#c2c2c2" stroke-width="1.6" fill="none"/>
<circle cx="365.20" cy="385.00" r="5.9" fill="#c2c2c2"/>
<path d="M384.20 364.80V434.70" stroke="#c2c2c2" stroke-width="2.0" fill="none"/>
<path d="M380.90 364.80H387.50M380.90 434.70H387.50" stroke="#c2c2c2" stroke-width="1.6" fill="none"/>
<circle cx="384.20" cy="401.20" r="5.9" fill="#c2c2c2"/>
<path d="M403.20 337.30V416.20" stroke="#c2c2c2" stroke-width="2.0" fill="none"/>
<path d="M399.90 337.30H406.50M399.90 416.20H406.50" stroke="#c2c2c2" stroke-width="1.6" fill="none"/>
<circle cx="403.20" cy="379.90" r="5.9" fill="#c2c2c2"/>
<circle cx="422.20" cy="372.80" r="4.5" fill="none" stroke="#c2c2c2" stroke-width="1.9"/>
<line x1="270.20" y1="373.00" x2="460.20" y2="373.00" stroke="#333" stroke-width="1.2" stroke-dasharray="4.26 4.26"/>
<rect x="270.30" y="316.40" width="189.80" height="145.90" fill="none" stroke="#000" stroke-width="1.2"/>
<line x1="265.30" y1="341.00" x2="270.30" y2="341.00" stroke="#000" stroke-width="1.2"/>
<g transform="translate(261.30 346.00) scale(1 1.05)"><text x="-6.52" y="0.00" font-size="11.7" text-anchor="start">0</text><path d="M763 0H583V1147Q518 1085 412.5 1023T223 930V1104Q374 1175 487 1276T647 1472H763Z" transform="translate(-13.01 0.00) scale(0.00571 -0.00547)" fill="#000" stroke="#000" stroke-width="14.0"/></g>
<line x1="265.30" y1="373.20" x2="270.30" y2="373.20" stroke="#000" stroke-width="1.2"/>
<text x="0" y="0" font-size="11.7" text-anchor="end" transform="translate(261.30 378.20) scale(1 1.05)">0</text>
<line x1="265.30" y1="405.40" x2="270.30" y2="405.40" stroke="#000" stroke-width="1.2"/>
<g transform="translate(261.30 410.40) scale(1 1.05)"><text x="-16.90 -6.52" y="0.00" font-size="11.7" text-anchor="start">-0</text><path d="M763 0H583V1147Q518 1085 412.5 1023T223 930V1104Q374 1175 487 1276T647 1472H763Z" transform="translate(-13.01 0.00) scale(0.00571 -0.00547)" fill="#000" stroke="#000" stroke-width="14.0"/></g>
<line x1="265.30" y1="437.50" x2="270.30" y2="437.50" stroke="#000" stroke-width="1.2"/>
<text x="0" y="0" font-size="11.7" text-anchor="end" transform="translate(261.30 442.50) scale(1 1.05)">-20</text>
<text x="275.66 291.84 298.40" y="344.90" font-size="11.8" text-anchor="start">(4)</text><path d="M763 0H583V1147Q518 1085 412.5 1023T223 930V1104Q374 1175 487 1276T647 1472H763Z" transform="translate(279.59 344.90) scale(0.00576 -0.00551)" fill="#000" stroke="#000" stroke-width="13.9"/><path d="M763 0H583V1147Q518 1085 412.5 1023T223 930V1104Q374 1175 487 1276T647 1472H763Z" transform="translate(285.27 344.90) scale(0.00576 -0.00551)" fill="#000" stroke="#000" stroke-width="13.9"/>
<text x="308.20" y="363.40" font-size="11.8" text-anchor="middle">(96)</text>
<text x="327.30" y="350.60" font-size="11.8" text-anchor="middle">(76)</text>
<text x="332.43 342.91 349.47 356.04" y="330.60" font-size="11.8" text-anchor="start">(05)</text><path d="M763 0H583V1147Q518 1085 412.5 1023T223 930V1104Q374 1175 487 1276T647 1472H763Z" transform="translate(336.35 330.60) scale(0.00576 -0.00551)" fill="#000" stroke="#000" stroke-width="13.9"/>
<text x="365.40" y="342.30" font-size="11.8" text-anchor="middle">(57)</text>
<text x="384.80" y="359.40" font-size="11.8" text-anchor="middle">(35)</text>
<text x="403.20" y="332.50" font-size="11.8" text-anchor="middle">(25)</text>
<text x="422.20" y="362.00" font-size="11.8" text-anchor="middle">(7)</text>
<text x="281.98" y="455.60" font-size="16.7" text-anchor="start" class="t">Cellulose remaining</text>
<text x="433.20" y="448.00" font-size="11.6" text-anchor="start">ns</text>
<line x1="289.20" y1="462.30" x2="289.20" y2="467.10" stroke="#000" stroke-width="1.2"/>
<g transform="rotate(-45 290.90 474.30)"><text x="268.09 274.42 284.54" y="474.30" font-size="11.4" text-anchor="start">0-0</text><path d="M763 0H583V1147Q518 1085 412.5 1023T223 930V1104Q374 1175 487 1276T647 1472H763Z" transform="translate(278.21 474.30) scale(0.00557 -0.00533)" fill="#000" stroke="#000" stroke-width="14.4"/></g>
<line x1="308.20" y1="462.30" x2="308.20" y2="467.10" stroke="#000" stroke-width="1.2"/>
<g transform="rotate(-45 309.90 474.30)"><text x="287.09 293.42 297.21 303.56" y="474.30" font-size="11.4" text-anchor="start">0-20</text><path d="M763 0H583V1147Q518 1085 412.5 1023T223 930V1104Q374 1175 487 1276T647 1472H763Z" transform="translate(280.76 474.30) scale(0.00557 -0.00533)" fill="#000" stroke="#000" stroke-width="14.4"/></g>
<line x1="327.20" y1="462.30" x2="327.20" y2="467.10" stroke="#000" stroke-width="1.2"/>
<text x="328.90" y="474.30" font-size="11.4" text-anchor="end" transform="rotate(-45 328.90 474.30)">20-30</text>
<line x1="346.20" y1="462.30" x2="346.20" y2="467.10" stroke="#000" stroke-width="1.2"/>
<text x="347.90" y="474.30" font-size="11.4" text-anchor="end" transform="rotate(-45 347.90 474.30)">30-40</text>
<line x1="365.20" y1="462.30" x2="365.20" y2="467.10" stroke="#000" stroke-width="1.2"/>
<text x="366.90" y="474.30" font-size="11.4" text-anchor="end" transform="rotate(-45 366.90 474.30)">40-50</text>
<line x1="384.20" y1="462.30" x2="384.20" y2="467.10" stroke="#000" stroke-width="1.2"/>
<text x="385.90" y="474.30" font-size="11.4" text-anchor="end" transform="rotate(-45 385.90 474.30)">50-60</text>
<line x1="403.20" y1="462.30" x2="403.20" y2="467.10" stroke="#000" stroke-width="1.2"/>
<text x="404.90" y="474.30" font-size="11.4" text-anchor="end" transform="rotate(-45 404.90 474.30)">60-70</text>
<line x1="422.20" y1="462.30" x2="422.20" y2="467.10" stroke="#000" stroke-width="1.2"/>
<text x="423.90" y="474.30" font-size="11.4" text-anchor="end" transform="rotate(-45 423.90 474.30)">70-80</text>
<line x1="441.20" y1="462.30" x2="441.20" y2="467.10" stroke="#000" stroke-width="1.2"/>
<text x="442.90" y="474.30" font-size="11.4" text-anchor="end" transform="rotate(-45 442.90 474.30)">80-90</text>
<path d="M513.30 351.00V416.30" stroke="#c2c2c2" stroke-width="2.0" fill="none"/>
<path d="M510.00 351.00H516.60M510.00 416.30H516.60" stroke="#c2c2c2" stroke-width="1.6" fill="none"/>
<circle cx="513.30" cy="384.10" r="5.9" fill="#c2c2c2"/>
<path d="M532.30 348.40V412.90" stroke="#c2c2c2" stroke-width="2.0" fill="none"/>
<path d="M529.00 348.40H535.60M529.00 412.90H535.60" stroke="#c2c2c2" stroke-width="1.6" fill="none"/>
<circle cx="532.30" cy="381.20" r="5.9" fill="#c2c2c2"/>
<path d="M551.30 346.40V412.30" stroke="#c2c2c2" stroke-width="2.0" fill="none"/>
<path d="M548.00 346.40H554.60M548.00 412.30H554.60" stroke="#c2c2c2" stroke-width="1.6" fill="none"/>
<circle cx="551.30" cy="380.20" r="5.9" fill="#c2c2c2"/>
<path d="M570.30 379.00V439.30" stroke="#c2c2c2" stroke-width="2.0" fill="none"/>
<path d="M567.00 379.00H573.60M567.00 439.30H573.60" stroke="#c2c2c2" stroke-width="1.6" fill="none"/>
<circle cx="570.30" cy="410.40" r="5.9" fill="#c2c2c2"/>
<path d="M589.30 360.70V426.90" stroke="#c2c2c2" stroke-width="2.0" fill="none"/>
<path d="M586.00 360.70H592.60M586.00 426.90H592.60" stroke="#c2c2c2" stroke-width="1.6" fill="none"/>
<circle cx="589.30" cy="395.00" r="5.9" fill="#c2c2c2"/>
<path d="M608.30 340.10V411.10" stroke="#c2c2c2" stroke-width="2.0" fill="none"/>
<path d="M605.00 340.10H611.60M605.00 411.10H611.60" stroke="#c2c2c2" stroke-width="1.6" fill="none"/>
<circle cx="608.30" cy="377.00" r="5.9" fill="#c2c2c2"/>
<path d="M627.30 364.80V439.00" stroke="#c2c2c2" stroke-width="2.0" fill="none"/>
<path d="M624.00 364.80H630.60M624.00 439.00H630.60" stroke="#c2c2c2" stroke-width="1.6" fill="none"/>
<circle cx="627.30" cy="403.50" r="5.9" fill="#c2c2c2"/>
<circle cx="646.30" cy="389.20" r="4.5" fill="none" stroke="#c2c2c2" stroke-width="1.9"/>
<line x1="494.30" y1="389.20" x2="684.30" y2="389.20" stroke="#333" stroke-width="1.2" stroke-dasharray="4.26 4.26"/>
<rect x="494.55" y="316.40" width="189.80" height="145.90" fill="none" stroke="#000" stroke-width="1.2"/>
<line x1="489.55" y1="340.70" x2="494.55" y2="340.70" stroke="#000" stroke-width="1.2"/>
<g transform="translate(485.40 345.70) scale(1 1.05)"><text x="-6.52" y="0.00" font-size="11.7" text-anchor="start">0</text><path d="M763 0H583V1147Q518 1085 412.5 1023T223 930V1104Q374 1175 487 1276T647 1472H763Z" transform="translate(-13.01 0.00) scale(0.00571 -0.00547)" fill="#000" stroke="#000" stroke-width="14.0"/></g>
<line x1="489.55" y1="389.10" x2="494.55" y2="389.10" stroke="#000" stroke-width="1.2"/>
<text x="0" y="0" font-size="11.7" text-anchor="end" transform="translate(485.40 394.10) scale(1 1.05)">0</text>
<line x1="489.55" y1="437.50" x2="494.55" y2="437.50" stroke="#000" stroke-width="1.2"/>
<g transform="translate(485.40 442.50) scale(1 1.05)"><text x="-16.90 -6.52" y="0.00" font-size="11.7" text-anchor="start">-0</text><path d="M763 0H583V1147Q518 1085 412.5 1023T223 930V1104Q374 1175 487 1276T647 1472H763Z" transform="translate(-13.01 0.00) scale(0.00571 -0.00547)" fill="#000" stroke="#000" stroke-width="14.0"/></g>
<text x="513.40" y="345.90" font-size="11.8" text-anchor="middle">(93)</text>
<text x="518.86 535.04 541.60" y="330.60" font-size="11.8" text-anchor="start">(9)</text><path d="M763 0H583V1147Q518 1085 412.5 1023T223 930V1104Q374 1175 487 1276T647 1472H763Z" transform="translate(522.79 330.60) scale(0.00576 -0.00551)" fill="#000" stroke="#000" stroke-width="13.9"/><path d="M763 0H583V1147Q518 1085 412.5 1023T223 930V1104Q374 1175 487 1276T647 1472H763Z" transform="translate(528.47 330.60) scale(0.00576 -0.00551)" fill="#000" stroke="#000" stroke-width="13.9"/>
<text x="551.30" y="342.70" font-size="11.8" text-anchor="middle">(90)</text>
<text x="556.53 567.01 573.57 580.14" y="375.10" font-size="11.8" text-anchor="start">(45)</text><path d="M763 0H583V1147Q518 1085 412.5 1023T223 930V1104Q374 1175 487 1276T647 1472H763Z" transform="translate(560.45 375.10) scale(0.00576 -0.00551)" fill="#000" stroke="#000" stroke-width="13.9"/>
<text x="589.30" y="355.60" font-size="11.8" text-anchor="middle">(54)</text>
<text x="608.30" y="335.30" font-size="11.8" text-anchor="middle">(43)</text>
<text x="627.60" y="360.00" font-size="11.8" text-anchor="middle">(25)</text>
<text x="646.10" y="379.00" font-size="11.8" text-anchor="middle">(7)</text>
<text x="504.03" y="455.60" font-size="16.7" text-anchor="start" class="t">Lignin remaining</text>
<text x="631.50" y="448.00" font-size="11.6" text-anchor="start">ns</text>
<line x1="513.30" y1="462.30" x2="513.30" y2="467.10" stroke="#000" stroke-width="1.2"/>
<g transform="rotate(-45 515.00 474.30)"><text x="492.19 498.52 508.64" y="474.30" font-size="11.4" text-anchor="start">0-0</text><path d="M763 0H583V1147Q518 1085 412.5 1023T223 930V1104Q374 1175 487 1276T647 1472H763Z" transform="translate(502.31 474.30) scale(0.00557 -0.00533)" fill="#000" stroke="#000" stroke-width="14.4"/></g>
<line x1="532.30" y1="462.30" x2="532.30" y2="467.10" stroke="#000" stroke-width="1.2"/>
<g transform="rotate(-45 534.00 474.30)"><text x="511.19 517.52 521.31 527.66" y="474.30" font-size="11.4" text-anchor="start">0-20</text><path d="M763 0H583V1147Q518 1085 412.5 1023T223 930V1104Q374 1175 487 1276T647 1472H763Z" transform="translate(504.86 474.30) scale(0.00557 -0.00533)" fill="#000" stroke="#000" stroke-width="14.4"/></g>
<line x1="551.30" y1="462.30" x2="551.30" y2="467.10" stroke="#000" stroke-width="1.2"/>
<text x="553.00" y="474.30" font-size="11.4" text-anchor="end" transform="rotate(-45 553.00 474.30)">20-30</text>
<line x1="570.30" y1="462.30" x2="570.30" y2="467.10" stroke="#000" stroke-width="1.2"/>
<text x="572.00" y="474.30" font-size="11.4" text-anchor="end" transform="rotate(-45 572.00 474.30)">30-40</text>
<line x1="589.30" y1="462.30" x2="589.30" y2="467.10" stroke="#000" stroke-width="1.2"/>
<text x="591.00" y="474.30" font-size="11.4" text-anchor="end" transform="rotate(-45 591.00 474.30)">40-50</text>
<line x1="608.30" y1="462.30" x2="608.30" y2="467.10" stroke="#000" stroke-width="1.2"/>
<text x="610.00" y="474.30" font-size="11.4" text-anchor="end" transform="rotate(-45 610.00 474.30)">50-60</text>
<line x1="627.30" y1="462.30" x2="627.30" y2="467.10" stroke="#000" stroke-width="1.2"/>
<text x="629.00" y="474.30" font-size="11.4" text-anchor="end" transform="rotate(-45 629.00 474.30)">60-70</text>
<line x1="646.30" y1="462.30" x2="646.30" y2="467.10" stroke="#000" stroke-width="1.2"/>
<text x="648.00" y="474.30" font-size="11.4" text-anchor="end" transform="rotate(-45 648.00 474.30)">70-80</text>
<line x1="665.30" y1="462.30" x2="665.30" y2="467.10" stroke="#000" stroke-width="1.2"/>
<text x="667.00" y="474.30" font-size="11.4" text-anchor="end" transform="rotate(-45 667.00 474.30)">80-90</text>
<text class="t" x="365.8" y="509.0" font-size="16.7" text-anchor="middle">Litter mass loss interval (%)</text>
<text class="t" x="14.9" y="231.0" font-size="16.78" text-anchor="middle" transform="rotate(-90 14.9 231.0)">Changes in percentage (%)</text>
</svg></body></html>
